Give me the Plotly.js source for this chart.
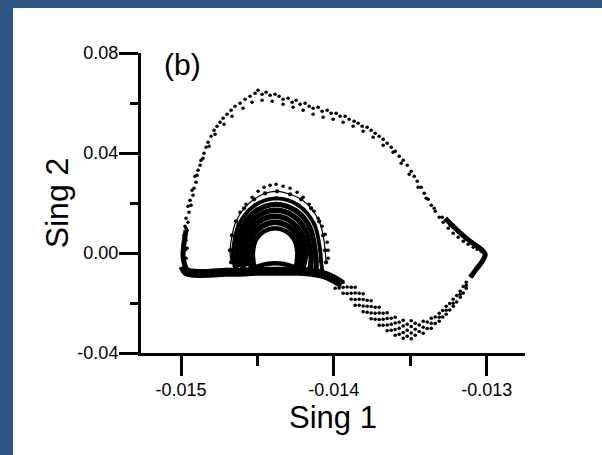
<!DOCTYPE html>
<html><head><meta charset="utf-8">
<script src="https://cdn.plot.ly/plotly-3.0.1.min.js"></script>
<style>
html,body{margin:0;padding:0;background:#2b5583;width:602px;height:455px;overflow:hidden}
#chart{position:absolute;left:13px;top:8px;width:589px;height:447px;background:#fff}
</style></head><body><div id="chart"></div>
<script>
// ---- data (Sing 1, Sing 2) ----
const outerX = [-0.0149804,-0.0149869,-0.0149738,-0.0149869,-0.0149673,-0.0149804,-0.0149607,-0.0149738,-0.0149542,-0.0149673,
 -0.0149476,-0.0149345,-0.0149411,-0.0149214,-0.0149149,-0.0149018,-0.0149083,-0.0148887,-0.0148756,-0.014869,
 -0.0148494,-0.0148363,-0.0148232,-0.0148035,-0.0147839,-0.0147642,-0.0147446,-0.0147249,-0.0146987,-0.0146725,
 -0.0146464,-0.0146136,-0.0145809,-0.0145481,-0.0145154,-0.0144957,-0.0144695,-0.0144433,-0.0144171,-0.0143844,
 -0.0143582,-0.014332,-0.0142993,-0.0142731,-0.0142469,-0.0142207,-0.0141879,-0.0141617,-0.0141355,-0.0141028,
 -0.0140766,-0.0140438,-0.0140176,-0.0139849,-0.0139587,-0.013926,-0.0138998,-0.013867,-0.0138408,-0.0138146,
 -0.0137819,-0.0137557,-0.0137295,-0.0137033,-0.0136771,-0.0136509,-0.0136247,-0.0135985,-0.0135723,-0.0135461,
 -0.0135199,-0.0134937,-0.0134741,-0.0134544,-0.0134282,-0.0134086,-0.0133824,-0.0133627,-0.0133366,-0.0133104,
 -0.0132842,-0.0132514,-0.0132187,-0.0131859,-0.0131532,-0.0131204,-0.0130877,-0.0130615,-0.0130353,-0.0130157];
const outerY = [-0.00372,-0.00092,0.00108,0.00308,0.00508,0.00708,0.00908,0.01068,0.01228,0.01388,
 0.01628,0.01908,0.02108,0.02308,0.02588,0.02828,0.03068,0.03308,0.03508,0.03708,
 0.03988,0.04228,0.04428,0.04668,0.04908,0.05068,0.05228,0.05388,0.05548,0.05708,
 0.05868,0.05988,0.06148,0.06268,0.06388,0.06508,0.06348,0.06428,0.06308,0.06348,
 0.06268,0.06148,0.06188,0.06028,0.06108,0.05948,0.05988,0.05868,0.05788,0.05828,
 0.05668,0.05708,0.05588,0.05588,0.05468,0.05468,0.05348,0.05268,0.05188,0.05068,
 0.05028,0.04908,0.04788,0.04668,0.04548,0.04388,0.04228,0.04068,0.03868,0.03708,
 0.03508,0.03268,0.03068,0.02868,0.02628,0.02388,0.02148,0.01908,0.01668,0.01428,
 0.01228,0.00988,0.00788,0.00628,0.00468,0.00348,0.00228,0.00148,0.00068,-0.00012];
const outer2X = [-0.014535,-0.0144695,-0.014404,-0.014332,-0.0142665,-0.014201,-0.0141355,-0.0140701,-0.0140046,-0.0139391,
 -0.0138736,-0.0138081,-0.0137426,-0.0136771,-0.0136116,-0.0135592,-0.0135068,-0.0134479,-0.0133955,-0.0133431,
 -0.0132907,-0.0132383,-0.0131859,-0.0131335,-0.0130811,
 -0.014594,-0.014666,-0.0147184,-0.0147773,-0.0148166,-0.0148559,-0.0148952,-0.014928,-0.0149542,-0.0149673,-0.0149607,-0.0149673];
const outer2Y = [0.06028,0.06108,0.06068,0.05948,0.05828,0.05708,0.05548,0.05428,0.05348,0.05228,
 0.05068,0.04868,0.04628,0.04308,0.04028,0.03588,0.03148,0.02628,0.02188,0.01788,
 0.01428,0.01108,0.00828,0.00548,0.00308,
 0.05788,0.05468,0.05148,0.04748,0.04268,0.03788,0.03108,0.02508,0.01868,0.00988,0.00188,-0.00212];
const tipX = [-0.0132711,-0.0132056,-0.0131401,-0.0130811,-0.0130353,-0.0130091,-0.0130288,-0.013068,-0.0131073];
const tipY = [0.01388,0.00988,0.00628,0.00348,0.00148,-0.00052,-0.00332,-0.00652,-0.00972];
const lowMidX = [-0.0130157,-0.0130549,-0.0130942,-0.0131335,-0.0131728,-0.0132187,-0.0132645,-0.0133104,-0.0133627,-0.0134151,
 -0.0134675,-0.0135199,-0.0135723,-0.0136247,-0.0136771,-0.0137295,-0.0137819,-0.0138343,-0.0138867,-0.0139391,-0.0139915,-0.0140438,-0.0141028];
const lowMidY = [-0.00132,-0.00532,-0.00932,-0.01292,-0.01652,-0.02012,-0.02292,-0.02572,-0.02812,-0.02972,
 -0.03052,-0.03092,-0.03012,-0.02852,-0.02652,-0.02412,-0.02132,-0.01852,-0.01612,-0.01372,-0.01172,-0.01012,-0.00892];
const lowSideX = [-0.0131335,-0.0131728,-0.0132187,-0.0132645,-0.0133104,-0.0133627,-0.0134151,-0.0134675,-0.0135199,
 -0.0135723,-0.0136247,-0.0136771,-0.0137295,-0.0137819,-0.0138343,-0.0138867,-0.0139391,-0.0139915];
const lowUpY = [-0.01172,-0.01532,-0.01852,-0.02132,-0.02412,-0.02612,-0.02732,-0.02812,-0.02852,
 -0.02772,-0.02612,-0.02412,-0.02172,-0.01892,-0.01612,-0.01372,-0.01172,-0.00972];
const lowDownY = [-0.01412,-0.01772,-0.02132,-0.02452,-0.02732,-0.03012,-0.03212,-0.03292,-0.03332,
 -0.03252,-0.03092,-0.02892,-0.02652,-0.02372,-0.02092,-0.01852,-0.01612,-0.01412];
const lowInterX = [-0.0131532,-0.0131958,-0.0132416,-0.0132875,-0.0133366,-0.0133889,-0.0134413,-0.0134937,-0.0135461,
 -0.0135985,-0.0136509,-0.0137033,-0.0137557,-0.0138081,-0.0138605,-0.0139129,-0.0139653];
const lowInterUpY = [-0.01342,-0.01702,-0.02022,-0.02302,-0.02562,-0.02762,-0.02882,-0.02942,-0.02922,
 -0.02802,-0.02622,-0.02402,-0.02142,-0.01862,-0.01602,-0.01362,-0.01142];
const lowInterDownY = [-0.01602,-0.01962,-0.02282,-0.02562,-0.02822,-0.03022,-0.03142,-0.03202,-0.03182,
 -0.03062,-0.02882,-0.02662,-0.02402,-0.02122,-0.01862,-0.01622,-0.01402];
const lowWideX = [-0.0134937,-0.0135461,-0.0135985,-0.0136509,-0.0137033,-0.0137557,-0.0138081,-0.0138605];
const lowWideUpY = [-0.02712,-0.02692,-0.02572,-0.02392,-0.02172,-0.01912,-0.01632,-0.01372];
const lowWideDownY = [-0.03432,-0.03412,-0.03292,-0.03112,-0.02892,-0.02632,-0.02352,-0.02092];
const bandX = [-0.0149869,-0.0149673,-0.0149083,-0.0148101,-0.0147118,-0.0146136,-0.0145154,-0.0144171,-0.0143189,-0.0142207,-0.0141421,-0.0140766,-0.0140111,-0.0139456];
const bandY = [-0.00532,-0.00732,-0.00812,-0.00812,-0.00772,-0.00772,-0.00732,-0.00732,-0.00732,-0.00732,-0.00772,-0.00852,-0.01012,-0.01252];
const leftEdgeX = [-0.0149673,-0.0149804,-0.0149869,-0.0149738];
const leftEdgeY = [0.00908,0.00388,-0.00132,-0.00532];
const ring1X = [-0.0145154,-0.0145285,-0.0145285,-0.0145088,-0.0144564,-0.0143844,-0.0143124,-0.01426,-0.0142403,-0.0142403,-0.0142534,-0.0143189,-0.0143844,-0.0144499,-0.0145154];
const ring1Y = [-0.00532,-0.00212,0.00108,0.00548,0.00868,0.00988,0.00868,0.00548,0.00108,-0.00212,-0.00532,-0.00452,-0.00412,-0.00452,-0.00532];
const ring2X = [-0.0145416,-0.0145547,-0.0145547,-0.0145317,-0.0144695,-0.0143844,-0.0142993,-0.014237,-0.0142141,-0.0142141,-0.0142272];
const ring2Y = [-0.00532,-0.00212,0.00108,0.00668,0.01068,0.01228,0.01068,0.00668,0.00108,-0.00212,-0.00532];
const ring3X = [-0.0145678,-0.0145809,-0.0145809,-0.0145547,-0.0144826,-0.0143844,-0.0142862,-0.0142141,-0.0141879,-0.0141879,-0.014201];
const ring3Y = [-0.00532,-0.00212,0.00108,0.00788,0.01284,0.01468,0.01284,0.00788,0.00108,-0.00212,-0.00572];
const ring4X = [-0.014594,-0.0146071,-0.0146071,-0.0145769,-0.0144938,-0.0143811,-0.0142678,-0.0141853,-0.0141552,-0.0141486,-0.0141552];
const ring4Y = [-0.00572,-0.00212,0.00108,0.00908,0.01492,0.01708,0.01492,0.00908,0.00108,-0.00252,-0.00612];
const ring5X = [-0.0146202,-0.0146333,-0.0146333,-0.0145992,-0.0145056,-0.0143778,-0.0142501,-0.0141565,-0.0141224,-0.0141159,-0.0141159];
const ring5Y = [-0.00572,-0.00212,0.00108,0.01028,0.017,0.01948,0.017,0.01028,0.00108,-0.00292,-0.00652];
const ring6X = [-0.0146464,-0.0146595,-0.0146595,-0.0146215,-0.0145167,-0.0143746,-0.0142318,-0.0141277,-0.0140897,-0.0140831,-0.0140766];
const ring6Y = [-0.00612,-0.00212,0.00108,0.01148,0.01908,0.02188,0.01908,0.01148,0.00108,-0.00332,-0.00692];
const ring7X = [-0.0146725,-0.0146791,-0.014666,-0.0146398,-0.0145874,-0.0145219,-0.0144499,-0.0143713,-0.0142862,-0.0142141,-0.0141486,-0.0140962,-0.0140701,-0.0140569,-0.0140504];
const ring7Y = [-0.00372,0.00108,0.00708,0.01268,0.01788,0.02148,0.02388,0.02468,0.02348,0.02148,0.01788,0.01268,0.00708,0.00108,-0.00372];
const ring8X = [-0.0146136,-0.0145743,-0.014535,-0.0144957,-0.0144564,-0.0144171,-0.0143778,-0.014332,-0.0142862,-0.0142403,-0.014201,-0.0141617,-0.014129,-0.0141028,-0.0140766,-0.0140569,-0.0140438,-0.0140373,-0.0140373];
const ring8Y = [0.01628,0.01948,0.02228,0.02468,0.02628,0.02708,0.02748,0.02668,0.02588,0.02428,0.02228,0.01948,0.01668,0.01388,0.01068,0.00748,0.00428,0.00108,-0.00212];

const xTickVals = [-0.015, -0.014, -0.013];
const xTickText = ['-0.015', '-0.014', '-0.013'];
const xMinorVals = [-0.0145, -0.0135];
const yTickVals = [0.08, 0.04, 0.00, -0.04];
const yTickText = ['0.08', '0.04', '0.00', '-0.04'];
const yMinorVals = [0.06, 0.02, -0.02];

// ---- drawing ----
const BLACK = '#000000';
function dots(x, y, size) {
  return {x: x, y: y, type: 'scatter', mode: 'markers', hoverinfo: 'skip',
          marker: {color: BLACK, size: size || 3.6, line: {width: 0}}};
}
function path(x, y, w, withMarkers) {
  return {x: x, y: y, type: 'scatter', mode: withMarkers ? 'lines+markers' : 'lines', hoverinfo: 'skip',
          line: {color: BLACK, width: w, shape: 'spline', smoothing: 1},
          marker: {color: BLACK, size: 4.2}};
}
const traces = [
  path(bandX, bandY, 9, false),
  path(leftEdgeX, leftEdgeY, 5, false),
  path(tipX, tipY, 5, false),
  path(ring1X, ring1Y, 4.6, false),
  path(ring2X, ring2Y, 5.4, true),
  path(ring3X, ring3Y, 5.4, false),
  path(ring4X, ring4Y, 5.4, true),
  path(ring5X, ring5Y, 5.2, false),
  path(ring6X, ring6Y, 3.8, true),
  path(ring7X, ring7Y, 1.2, true),
  dots(ring8X, ring8Y),
  dots(outerX, outerY),
  dots(outer2X, outer2Y),
  dots(lowMidX, lowMidY),
  dots(lowSideX, lowUpY),
  dots(lowSideX, lowDownY),
  dots(lowInterX, lowInterUpY),
  dots(lowInterX, lowInterDownY),
  dots(lowWideX, lowWideUpY),
  dots(lowWideX, lowWideDownY)
];

const FONT = 'Liberation Sans, Arial, Helvetica, sans-serif';
const layout = {
  width: 589, height: 447,
  margin: {l: 128, r: 77, t: 45, b: 102, pad: 0},
  paper_bgcolor: '#ffffff', plot_bgcolor: '#ffffff',
  showlegend: false,
  font: {family: FONT, color: BLACK, size: 18},
  xaxis: {
    range: [-0.015262, -0.012749],
    showgrid: false, zeroline: false,
    showline: true, linecolor: BLACK, linewidth: 3,
    ticks: 'outside', ticklen: 20, tickwidth: 3, tickcolor: BLACK,
    ticklabelstandoff: -2,
    tickmode: 'array', tickvals: xTickVals, ticktext: xTickText,
    tickfont: {family: FONT, size: 18, color: BLACK},
    minor: {tickmode: 'array', tickvals: xMinorVals, ticks: 'outside', ticklen: 10, tickwidth: 3, tickcolor: BLACK, showgrid: false},
    title: {text: 'Sing 1', font: {family: FONT, size: 31, color: BLACK}, standoff: 0}
  },
  yaxis: {
    range: [-0.04, 0.08],
    showgrid: false, zeroline: false,
    showline: true, linecolor: BLACK, linewidth: 3,
    ticks: 'outside', ticklen: 19, tickwidth: 3, tickcolor: BLACK,
    ticklabelstandoff: -3,
    tickmode: 'array', tickvals: yTickVals, ticktext: yTickText,
    tickfont: {family: FONT, size: 18, color: BLACK},
    minor: {tickmode: 'array', tickvals: yMinorVals, ticks: 'outside', ticklen: 8, tickwidth: 3, tickcolor: BLACK, showgrid: false},
    title: {text: 'Sing 2', font: {family: FONT, size: 32, color: BLACK}, standoff: 0}
  },
  annotations: [{
    text: '(b)', xref: 'paper', yref: 'paper', x: 0.055, y: 1.025,
    xanchor: 'left', yanchor: 'top', showarrow: false,
    font: {family: FONT, size: 30, color: BLACK}
  }]
};
Plotly.newPlot('chart', traces, layout, {staticPlot: true, displayModeBar: false});
</script></body></html>
